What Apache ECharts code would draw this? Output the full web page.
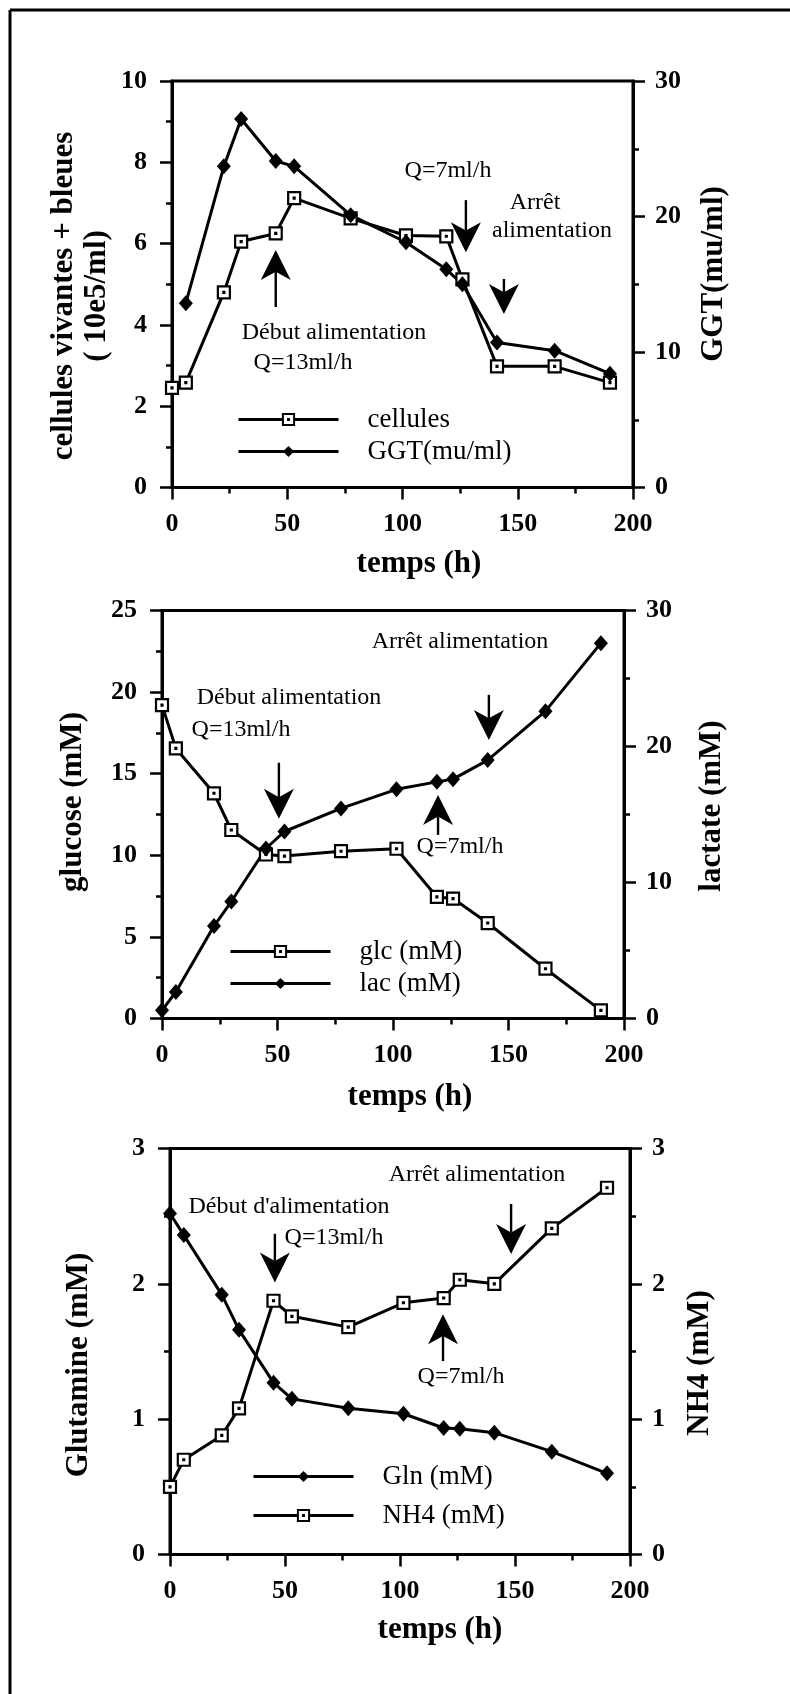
<!DOCTYPE html>
<html><head><meta charset="utf-8">
<script src="https://cdn.jsdelivr.net/npm/echarts@6/dist/echarts.min.js"></script>
<style>html,body{margin:0;padding:0;background:#fff}#c{width:790px;height:1694px}</style>
</head><body><div id="c"></div>
<script>
// ---- data ----
const temps    = [0, 6, 22.5, 30, 45, 53, 77.5, 101.5, 119, 126, 141, 166, 190];
const cellules = [2.45, 2.58, 4.8, 6.05, 6.25, 7.12, 6.62, 6.2, 6.18, 5.12, 2.98, 2.98, 2.58];
const ggt      = [null, 13.6, 23.7, 27.2, 24.1, 23.7, 20.1, 18.1, 16.1, 15.0, 10.7, 10.1, 8.4];
const glc      = [19.2, 16.55, 13.8, 11.55, 10.05, 9.95, 10.25, 10.4, 7.45, 7.35, 5.85, 3.05, 0.5];
const lac      = [0.6, 1.95, 6.8, 8.6, 12.5, 13.75, 15.45, 16.85, 17.4, 17.6, 19.0, 22.6, 27.6];
const gln      = [2.52, 2.36, 1.92, 1.66, 1.27, 1.15, 1.08, 1.04, 0.935, 0.93, 0.90, 0.76, 0.60];
const nh4      = [0.50, 0.70, 0.88, 1.08, 1.875, 1.76, 1.68, 1.86, 1.895, 2.03, 2.00, 2.41, 2.71];

// axis ranges [min, max, interval]
const xRange   = [0, 200, 50];
const cellRange = [0, 10, 2];
const ggtRange  = [0, 30, 10];
const glcRange  = [0, 25, 5];
const lacRange  = [0, 30, 10];
const glnRange  = [0, 3, 1];
const nh4Range  = [0, 3, 1];

// arrows: [temps, from value, to value] in left-axis units of each panel
const arrows1 = [[45, 4.44, 5.84], [127.5, 7.07, 5.79], [144, 5.13, 4.27]];
const arrows2 = [[50.6, 15.67, 12.24], [141.5, 19.83, 17.07], [119.5, 11.25, 13.7]];
const arrows3 = [[45.6, 2.37, 2.01], [148.3, 2.59, 2.22], [118.7, 1.43, 1.775]];

const FONT = '"Liberation Serif","Times New Roman",serif';
const BLK = '#000';

const pair = (arr) => temps.map((t, i) => [t, arr[i]]);

const grids = [
  {left: 172, top: 81, width: 461, height: 406.5},
  {left: 162, top: 610.5, width: 462, height: 408},
  {left: 170, top: 1148.5, width: 460, height: 406}
].map(g => Object.assign({show: true, borderColor: BLK, borderWidth: 3, backgroundColor: 'transparent', containLabel: false, outerBoundsMode: 'none'}, g));

function xAx(gi) {
  return {type: 'value', gridIndex: gi, min: xRange[0], max: xRange[1], interval: xRange[2], position: 'bottom',
    axisLine: {show: true, onZero: false, lineStyle: {color: BLK, width: 3}},
    axisTick: {show: true, length: 12, lineStyle: {color: BLK, width: 2.5}},
    minorTick: {show: true, splitNumber: 2, length: 6, lineStyle: {color: BLK, width: 2.5}},
    axisLabel: {color: BLK, fontFamily: FONT, fontWeight: 'bold', fontSize: 26, margin: 24},
    splitLine: {show: false}, minorSplitLine: {show: false}};
}
function yAx(gi, pos, r) {
  return {type: 'value', gridIndex: gi, position: pos, min: r[0], max: r[1], interval: r[2],
    axisLine: {show: true, onZero: false, lineStyle: {color: BLK, width: 3}},
    axisTick: {show: true, length: 12, lineStyle: {color: BLK, width: 2.5}},
    minorTick: {show: true, splitNumber: 2, length: 6, lineStyle: {color: BLK, width: 2.5}},
    axisLabel: {color: BLK, fontFamily: FONT, fontWeight: 'bold', fontSize: 26, margin: pos === 'left' ? 25 : 22},
    splitLine: {show: false}, minorSplitLine: {show: false}};
}

const SQUARE = 'path://M0,0L10,0L10,10L0,10Z M4.6,4.6L5.4,4.6L5.4,5.4L4.6,5.4Z';
function sqSeries(name, data, xi, yi) {
  return {type: 'line', name, data: pair(data), xAxisIndex: xi, yAxisIndex: yi,
    symbol: SQUARE, symbolSize: 12, showAllSymbol: true, connectNulls: false, animation: false,
    lineStyle: {color: BLK, width: 3}, itemStyle: {color: '#fff', borderColor: BLK, borderWidth: 2.2}};
}
function dmSeries(name, data, xi, yi) {
  return {type: 'line', name, data: pair(data), xAxisIndex: xi, yAxisIndex: yi,
    symbol: 'diamond', symbolSize: [14, 16], showAllSymbol: true, connectNulls: false, animation: false,
    lineStyle: {color: BLK, width: 3}, itemStyle: {color: BLK, borderColor: BLK, borderWidth: 0}};
}

function legendAt(names, left, top, gap) {
  return {data: names, orient: 'vertical', left, top, itemWidth: 100, itemHeight: 14, itemGap: gap,
    selectedMode: false, padding: 0,
    lineStyle: {width: 3, color: BLK},
    textStyle: {color: BLK, fontFamily: FONT, fontSize: 27, padding: [14, 0, 0, 24]}};
}

function txt(x, y, text, size, bold, rot) {
  return {type: 'text', x, y, rotation: rot ? Math.PI / 2 : 0, silent: true,
    style: {text, x: 0, y: 0, align: 'center', verticalAlign: 'middle', fill: BLK,
      font: (bold ? 'bold ' : '') + size + 'px ' + FONT, lineHeight: size + 2}};
}

const texts = [
  // panel 1
  txt(80, 296, 'cellules vivantes + bleues\n( 10e5/ml)', 31, true, true),
  txt(714, 274, 'GGT(mu/ml)', 31, true, true),
  txt(419, 564, 'temps (h)', 31, true, false),
  txt(334, 333, 'Début alimentation', 24, false, false),
  txt(303, 363, 'Q=13ml/h', 24, false, false),
  txt(448, 171, 'Q=7ml/h', 24, false, false),
  txt(535, 203, 'Arrêt', 24, false, false),
  txt(552, 231, 'alimentation', 24, false, false),
  // panel 2
  txt(73, 802, 'glucose (mM)', 31, true, true),
  txt(712, 806, 'lactate (mM)', 31, true, true),
  txt(410, 1097, 'temps (h)', 31, true, false),
  txt(460, 642, 'Arrêt alimentation', 24, false, false),
  txt(289, 698, 'Début alimentation', 24, false, false),
  txt(241, 730, 'Q=13ml/h', 24, false, false),
  txt(460, 847, 'Q=7ml/h', 24, false, false),
  // panel 3
  txt(79, 1365, 'Glutamine (mM)', 31, true, true),
  txt(700, 1363, 'NH4 (mM)', 31, true, true),
  txt(440, 1630, 'temps (h)', 31, true, false),
  txt(477, 1175, 'Arrêt alimentation', 24, false, false),
  txt(289, 1207, "Début d'alimentation", 24, false, false),
  txt(334, 1238, 'Q=13ml/h', 24, false, false),
  txt(461, 1377, 'Q=7ml/h', 24, false, false),
  // page frame
  {type: 'line', silent: true, shape: {x1: 10, y1: 10, x2: 790, y2: 10}, style: {stroke: BLK, lineWidth: 3}},
  {type: 'line', silent: true, shape: {x1: 10, y1: 10, x2: 10, y2: 1694}, style: {stroke: BLK, lineWidth: 3}}
];

const chart = echarts.init(document.getElementById('c'), null, {renderer: 'canvas'});
chart.setOption({
  backgroundColor: '#fff',
  animation: false,
  grid: grids,
  xAxis: [xAx(0), xAx(1), xAx(2)],
  yAxis: [yAx(0, 'left', cellRange), yAx(0, 'right', ggtRange),
          yAx(1, 'left', glcRange), yAx(1, 'right', lacRange),
          yAx(2, 'left', glnRange), yAx(2, 'right', nh4Range)],
  legend: [
    legendAt(['cellules', 'GGT(mu/ml)'], 237, 406, 5),
    legendAt(['glc (mM)', 'lac (mM)'], 229, 938, 5),
    legendAt(['Gln (mM)', 'NH4 (mM)'], 252, 1463, 12)
  ],
  series: [
    sqSeries('cellules', cellules, 0, 0),
    dmSeries('GGT(mu/ml)', ggt, 0, 1),
    sqSeries('glc (mM)', glc, 1, 2),
    dmSeries('lac (mM)', lac, 1, 3),
    dmSeries('Gln (mM)', gln, 2, 4),
    sqSeries('NH4 (mM)', nh4, 2, 5)
  ],
  graphic: texts
});

// arrows placed through the chart's own scales
function arrowEls(list, gi) {
  const els = [];
  const HL = 30, HW = 15;
  list.forEach(a => {
    const p0 = chart.convertToPixel({xAxisIndex: gi, yAxisIndex: gi * 2}, [a[0], a[1]]);
    const p1 = chart.convertToPixel({xAxisIndex: gi, yAxisIndex: gi * 2}, [a[0], a[2]]);
    const dir = p1[1] > p0[1] ? 1 : -1; // 1 = pointing down
    const tipY = p1[1], x = p1[0];
    const backY = tipY - dir * HL, notchY = tipY - dir * HL * 0.72;
    els.push({type: 'line', silent: true, shape: {x1: p0[0], y1: p0[1], x2: x, y2: notchY}, style: {stroke: BLK, lineWidth: 2.4}});
    els.push({type: 'polygon', silent: true, shape: {points: [[x, tipY], [x + HW, backY], [x, notchY], [x - HW, backY]]}, style: {fill: BLK}});
  });
  return els;
}
chart.setOption({graphic: texts.concat(arrowEls(arrows1, 0), arrowEls(arrows2, 1), arrowEls(arrows3, 2))});
</script></body></html>
